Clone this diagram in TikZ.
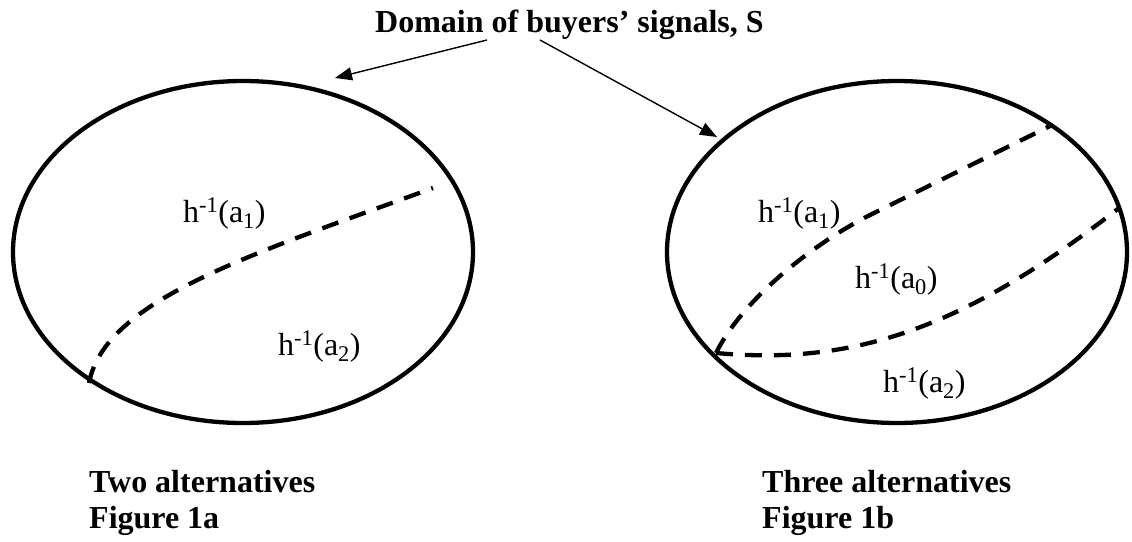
\documentclass[tikz,border=0pt]{standalone}
\usepackage{fontspec}
\setmainfont{Liberation Serif}
\usetikzlibrary{arrows.meta}
\begin{document}
\begin{tikzpicture}[x=1pt,y=-1pt,
  lbl/.style={font=\fontsize{32}{38}\selectfont, inner sep=0pt, anchor=base west},
  ttl/.style={font=\fontsize{32}{38}\selectfont\bfseries, inner sep=0pt, anchor=base west},
  outline/.style={line width=4.3pt},
  border/.style={line width=4.3pt, dash pattern=on 17pt off 12pt},
  pointer/.style={line width=1.4pt, -{Triangle[length=17pt,width=13pt]}}]
\useasboundingbox (0,0) rectangle (1132,541);

% title and pointers
\node[ttl] (title) at (375,32) {Domain of buyers’ signals, S};
\coordinate (sL) at (487,40);
\coordinate (sR) at (540,40);
\coordinate (tL) at (335,78);
\coordinate (tR) at (717,137);
\draw[pointer] (sL) -- (tL);
\draw[pointer] (sR) -- (tR);

% Figure 1a
\coordinate (ca) at (243,252);
\draw[outline] (ca) ellipse [x radius=230, y radius=171];
\coordinate (a0) at (89,383);
\coordinate (a1) at (433,188);
\draw[border] (a0) .. controls (105,300) and (250,255) .. (a1);
\node[lbl] (la1) at (183,222) {h\textsuperscript{-1}(a\textsubscript{1})};
\node[lbl] (la2) at (278,355) {h\textsuperscript{-1}(a\textsubscript{2})};

% Figure 1b
\coordinate (cb) at (897,252);
\draw[outline] (cb) ellipse [x radius=230, y radius=171];
\coordinate (b0) at (716,353);
\coordinate (bm) at (870,215);
\coordinate (b1) at (1052,125);
\coordinate (b2) at (1119,208);
\draw[border] (b0) .. controls (745,295) and (820,240) .. (bm) -- (b1);
\draw[border] (b0) .. controls (850,365) and (960,332) .. (b2);
\node[lbl] (lb1) at (758,222) {h\textsuperscript{-1}(a\textsubscript{1})};
\node[lbl] (lb0) at (855,288) {h\textsuperscript{-1}(a\textsubscript{0})};
\node[lbl] (lb2) at (883,392) {h\textsuperscript{-1}(a\textsubscript{2})};

% captions
\node[ttl] (c1a) at (89,492) {Two alternatives};
\node[ttl] (c1b) at (89,528) {Figure 1a};
\node[ttl] (c2a) at (762,492) {Three alternatives};
\node[ttl] (c2b) at (762,528) {Figure 1b};
\end{tikzpicture}
\end{document}
